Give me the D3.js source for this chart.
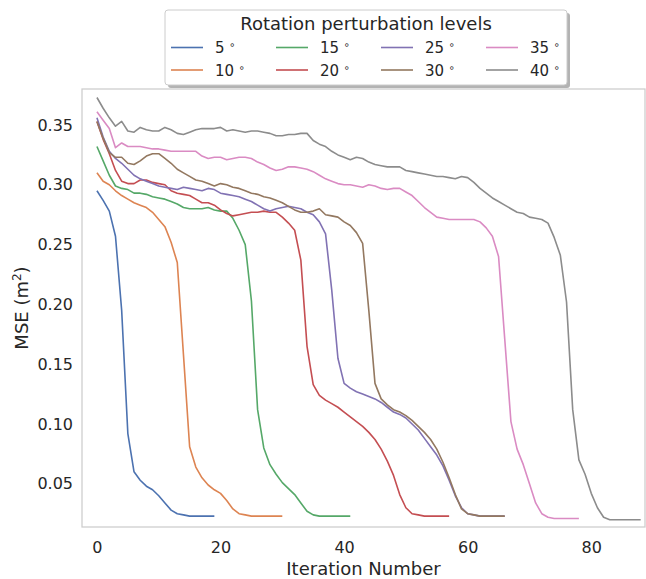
<!DOCTYPE html>
<html>
<head>
<meta charset="utf-8">
<script src="https://cdn.jsdelivr.net/npm/d3@7"></script>
<style>
  body { margin: 0; background: #fff; }
  text { font-family: "DejaVu Sans", sans-serif; fill: #262626; }
</style>
</head>
<body>
<div id="chart"></div>
<script>
// Datos: MSE por iteración para cada nivel de rotación
const levels = ["5", "10", "15", "20", "25", "30", "35", "40"];
const colors = ["#4C72B0", "#DD8452", "#55A868", "#C44E52", "#8172B3", "#937860", "#DA8BC3", "#8C8C8C"];

const mse5 = [0.295, 0.287, 0.278, 0.257, 0.195, 0.092, 0.060, 0.053, 0.048, 0.045, 0.040, 0.034, 0.028, 0.025, 0.024,
  0.023, 0.023, 0.023, 0.023, 0.023];
const mse10 = [0.310, 0.303, 0.300, 0.295, 0.291, 0.288, 0.285, 0.283, 0.281, 0.277, 0.271, 0.265, 0.252, 0.235, 0.158,
  0.081, 0.064, 0.055, 0.049, 0.045, 0.042, 0.036, 0.029, 0.025, 0.024, 0.023, 0.023, 0.023, 0.023, 0.023, 0.023];
const mse15 = [0.332, 0.320, 0.308, 0.299, 0.297, 0.296, 0.293, 0.293, 0.292, 0.290, 0.289, 0.288, 0.286, 0.284, 0.281,
  0.280, 0.280, 0.280, 0.281, 0.279, 0.278, 0.278, 0.272, 0.262, 0.250, 0.203, 0.112, 0.080, 0.066, 0.058, 0.051,
  0.046, 0.041, 0.034, 0.027, 0.024, 0.023, 0.023, 0.023, 0.023, 0.023, 0.023];
const mse20 = [0.353, 0.338, 0.326, 0.312, 0.303, 0.301, 0.301, 0.304, 0.304, 0.302, 0.301, 0.300, 0.295, 0.293, 0.292,
  0.291, 0.288, 0.285, 0.285, 0.283, 0.279, 0.276, 0.274, 0.275, 0.276, 0.277, 0.277, 0.278, 0.277, 0.277, 0.273,
  0.268, 0.262, 0.237, 0.165, 0.133, 0.124, 0.120, 0.117, 0.114, 0.110, 0.106, 0.102, 0.098, 0.093, 0.087, 0.079,
  0.069, 0.057, 0.041, 0.030, 0.025, 0.024, 0.023, 0.023, 0.023, 0.023, 0.023];
const mse25 = [0.356, 0.340, 0.328, 0.322, 0.318, 0.313, 0.308, 0.305, 0.303, 0.301, 0.299, 0.298, 0.297, 0.296, 0.298,
  0.297, 0.296, 0.295, 0.297, 0.296, 0.293, 0.292, 0.291, 0.290, 0.288, 0.286, 0.283, 0.280, 0.278, 0.280, 0.281,
  0.282, 0.281, 0.280, 0.277, 0.275, 0.269, 0.259, 0.212, 0.155, 0.134, 0.130, 0.127, 0.125, 0.123, 0.121, 0.118,
  0.114, 0.110, 0.108, 0.105, 0.100, 0.095, 0.088, 0.081, 0.074, 0.065, 0.053, 0.040, 0.030, 0.025, 0.024, 0.023,
  0.023, 0.023, 0.023, 0.023];
const mse30 = [0.353, 0.339, 0.327, 0.323, 0.323, 0.318, 0.317, 0.320, 0.324, 0.326, 0.326, 0.322, 0.318, 0.313, 0.310,
  0.307, 0.304, 0.303, 0.301, 0.299, 0.301, 0.300, 0.298, 0.297, 0.295, 0.293, 0.292, 0.290, 0.289, 0.287, 0.285,
  0.282, 0.279, 0.277, 0.277, 0.278, 0.280, 0.275, 0.274, 0.273, 0.269, 0.266, 0.260, 0.251, 0.195, 0.134, 0.121,
  0.116, 0.112, 0.110, 0.107, 0.103, 0.098, 0.093, 0.087, 0.079, 0.068, 0.055, 0.041, 0.029, 0.025, 0.024, 0.023,
  0.023, 0.023, 0.023, 0.023];
const mse35 = [0.361, 0.354, 0.347, 0.331, 0.335, 0.332, 0.332, 0.332, 0.331, 0.330, 0.330, 0.329, 0.328, 0.328, 0.328,
  0.328, 0.328, 0.324, 0.322, 0.323, 0.323, 0.321, 0.322, 0.323, 0.323, 0.322, 0.319, 0.317, 0.314, 0.312, 0.313,
  0.315, 0.315, 0.314, 0.313, 0.311, 0.308, 0.305, 0.303, 0.301, 0.300, 0.300, 0.299, 0.298, 0.300, 0.299, 0.297,
  0.296, 0.297, 0.297, 0.294, 0.291, 0.286, 0.281, 0.277, 0.273, 0.272, 0.271, 0.271, 0.271, 0.271, 0.271, 0.269,
  0.264, 0.257, 0.240, 0.171, 0.102, 0.079, 0.066, 0.050, 0.034, 0.025, 0.022, 0.021, 0.021, 0.021, 0.021, 0.021];
const mse40 = [0.373, 0.364, 0.356, 0.349, 0.353, 0.345, 0.344, 0.348, 0.346, 0.345, 0.345, 0.348, 0.346, 0.343, 0.342,
  0.344, 0.346, 0.347, 0.347, 0.347, 0.348, 0.345, 0.346, 0.345, 0.344, 0.345, 0.345, 0.344, 0.343, 0.341, 0.341,
  0.342, 0.342, 0.343, 0.343, 0.337, 0.334, 0.332, 0.328, 0.325, 0.323, 0.321, 0.323, 0.322, 0.319, 0.317, 0.316,
  0.315, 0.315, 0.315, 0.312, 0.311, 0.310, 0.309, 0.308, 0.307, 0.307, 0.306, 0.305, 0.307, 0.306, 0.302, 0.297,
  0.293, 0.289, 0.286, 0.283, 0.280, 0.277, 0.276, 0.273, 0.272, 0.271, 0.268, 0.256, 0.241, 0.202, 0.112, 0.070,
  0.058, 0.042, 0.030, 0.022, 0.020, 0.020, 0.020, 0.020, 0.020, 0.020];

const series = [mse5, mse10, mse15, mse20, mse25, mse30, mse35, mse40];
const xTicks = [0, 20, 40, 60, 80];
const yTicks = [0.05, 0.10, 0.15, 0.20, 0.25, 0.30, 0.35];

// Configuración
const width = 646, height = 579;
const margin = {top: 89, right: 1, bottom: 52, left: 82};

const svg = d3.select("#chart").append("svg")
  .attr("width", width)
  .attr("height", height);

const x = d3.scaleLinear()
  .domain([-2.42, 88.7])
  .range([margin.left, width - margin.right]);

const y = d3.scaleLinear()
  .domain([0.01388, 0.3801])
  .range([height - margin.bottom, margin.top]);

// marco del gráfico
svg.append("rect")
  .attr("x", margin.left)
  .attr("y", margin.top)
  .attr("width", width - margin.right - margin.left)
  .attr("height", height - margin.bottom - margin.top)
  .attr("fill", "none")
  .attr("stroke", "#cccccc")
  .attr("stroke-width", 1.25);

// ejes sin marcas
const xAxis = svg.append("g")
  .attr("transform", `translate(0,${height - margin.bottom})`)
  .call(d3.axisBottom(x).tickValues(xTicks).tickSize(0).tickPadding(15));
const yAxis = svg.append("g")
  .attr("transform", `translate(${margin.left},0)`)
  .call(d3.axisLeft(y).tickValues(yTicks).tickFormat(d3.format(".2f")).tickSize(0).tickPadding(9));
[xAxis, yAxis].forEach(a => {
  a.select(".domain").remove();
  a.selectAll("text")
    .attr("font-size", 16)
    .attr("font-family", "DejaVu Sans, sans-serif")
    .attr("fill", "#262626");
});

// etiquetas de los ejes
svg.append("text")
  .attr("x", (margin.left + width - margin.right) / 2)
  .attr("y", 575)
  .attr("text-anchor", "middle")
  .attr("font-size", 18)
  .text("Iteration Number");

svg.append("text")
  .attr("transform", `translate(28,${(margin.top + height - margin.bottom) / 2}) rotate(-90)`)
  .attr("text-anchor", "middle")
  .attr("font-size", 18)
  .text("MSE (m")
  .append("tspan").attr("font-size", 12).attr("dy", -7).text("2")
  .select(function() { return this.parentNode; })
  .append("tspan").attr("dy", 7).text(")");

// líneas
const line = d3.line()
  .x((d, i) => x(i))
  .y(d => y(d));

const plot = svg.append("g");
series.forEach((s, k) => {
  plot.append("path")
    .datum(s)
    .attr("fill", "none")
    .attr("stroke", colors[k])
    .attr("stroke-width", 1.6)
    .attr("stroke-linejoin", "round")
    .attr("d", line);
});

// leyenda
const lg = svg.append("g");
const lx = 165, ly = 10, lw = 402, lh = 75;
lg.append("rect")
  .attr("x", lx + 3).attr("y", ly + 3)
  .attr("width", lw).attr("height", lh)
  .attr("rx", 3)
  .attr("fill", "#b3b3b3");
lg.append("rect")
  .attr("x", lx).attr("y", ly)
  .attr("width", lw).attr("height", lh)
  .attr("rx", 3)
  .attr("fill", "#fff")
  .attr("stroke", "#cccccc")
  .attr("stroke-width", 1);
lg.append("text")
  .attr("x", lx + lw / 2)
  .attr("y", ly + 20)
  .attr("text-anchor", "middle")
  .attr("font-size", 18)
  .text("Rotation perturbation levels");

levels.forEach((lev, k) => {
  const col = Math.floor(k / 2), row = k % 2;
  const cx = 171 + col * 105, cy = 47.5 + row * 22.5;
  lg.append("line")
    .attr("x1", cx).attr("x2", cx + 32)
    .attr("y1", cy).attr("y2", cy)
    .attr("stroke", colors[k])
    .attr("stroke-width", 1.6);
  const t = lg.append("text")
    .attr("x", cx + 44)
    .attr("y", cy + 5.5)
    .attr("font-size", 15)
    .text(lev + " ");
  t.append("tspan")
    .attr("font-size", 10)
    .attr("dy", -5)
    .text("\u2218");
});
</script>
</body>
</html>
